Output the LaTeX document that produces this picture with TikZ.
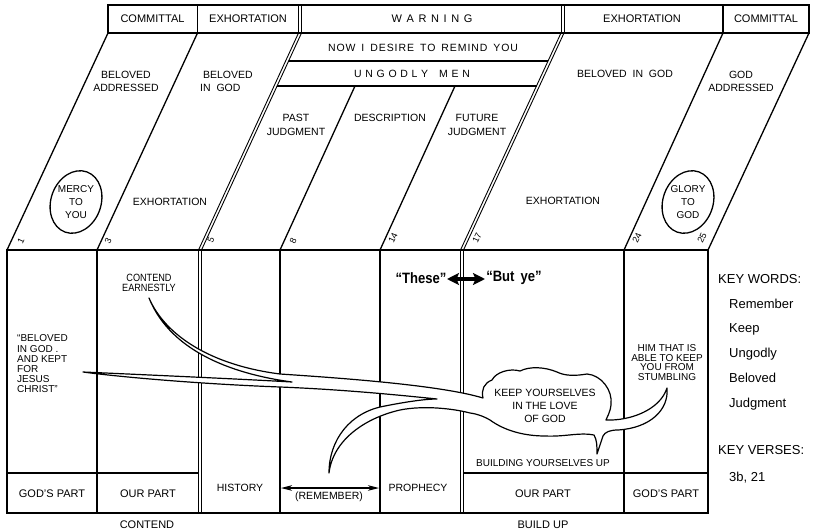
\documentclass[tikz,border=0pt]{standalone}
\usepackage{fontspec}
\setmainfont{Liberation Sans}
\newfontfamily\condfont[FakeStretch=0.87]{Liberation Sans}
\usetikzlibrary{arrows.meta,shapes.geometric}
\newcommand\gapA{\kern4.6pt}
\newcommand\gapB{\kern3.7pt}
\newcommand\gapC{\kern0.9pt}
\newcommand\wgapC{\kern6pt}
\begin{document}
\begin{tikzpicture}[x=1pt,y=-1pt,
  lbl/.style={inner sep=0pt, align=center, font=\fontsize{10.5}{13.5}\selectfont},
  hdr/.style={inner sep=0pt, font=\fontsize{11}{13}\selectfont},
  num/.style={inner sep=0pt, font=\fontsize{9}{10}\selectfont, rotate=65},
  smalltxt/.style={inner sep=0pt, align=center, font=\fontsize{10}{9.7}\selectfont},
  keytxt/.style={inner sep=0pt, anchor=base west, font=\fontsize{13}{15}\selectfont},
  frame/.style={line width=1.3pt},
  dbl/.style={line width=0.9pt},
  oval/.style={draw, ellipse, line width=1.3pt, minimum width=50pt, minimum height=64pt, rotate=-20, inner sep=0pt},
  river/.style={fill=white, draw=black, line width=1.2pt, line join=round}
]
\fill[white] (0,0) rectangle (816,532);
\useasboundingbox (0,0) rectangle (816,532);

% ---------- header row ----------
\draw[frame] (108,5) rectangle (809,33);
\draw[frame] (197.5,5) -- (197.5,33);
\draw[dbl] (298.5,5) -- (298.5,33) (301.5,5) -- (301.5,33);
\draw[dbl] (561,5) -- (561,33) (564,5) -- (564,33);
\draw[frame] (723,5) -- (723,33);

% ---------- slanted top face ----------
\draw[frame] (108,33) -- (7,250);
\draw[frame] (197.5,33) -- (97,250);
\draw[dbl] (298.5,33) -- (198.5,250) (301.5,33) -- (201.5,250);
\draw[dbl] (561,33) -- (460.5,250) (564,33) -- (463.5,250);
\draw[frame] (723,33) -- (624,250);
\draw[frame] (809,33) -- (708,250);
% bands inside WARNING
\draw[frame] (288.6,61) -- (548,61);
\draw[frame] (277.1,86) -- (536.5,86);
\draw[frame] (355,86) -- (280,250);
\draw[frame] (455,86) -- (380,250);

% ---------- front face ----------
\draw[frame] (7,250) rectangle (708,513);
\draw[frame] (97,250) -- (97,513);
\draw[dbl] (198.5,250) -- (198.5,513) (201.5,250) -- (201.5,513);
\draw[frame] (280,250) -- (280,513);
\draw[frame] (380,250) -- (380,513);
\draw[dbl] (460.5,250) -- (460.5,513) (463.5,250) -- (463.5,513);
\draw[frame] (624,250) -- (624,513);
\draw[frame] (7,473) -- (198.5,473);
\draw[frame] (463.5,473) -- (708,473);

% ---------- header texts ----------
\node[hdr] (h1) at (152.5,19) {COMMITTAL};
\node[hdr] (h2) at (248,19) {EXHORTATION};
\node[hdr] (h3) at (432,19) {W\gapA A\gapA R\gapA N\gapA I\gapA N\gapA G};
\node[hdr] (h4) at (642,19) {EXHORTATION};
\node[hdr] (h5) at (766,19) {COMMITTAL};
\node[lbl] (b1) at (423,47.5) {N\gapC O\gapC W\wgapC I\wgapC D\gapC E\gapC S\gapC I\gapC R\gapC E\wgapC T\gapC O\wgapC R\gapC E\gapC M\gapC I\gapC N\gapC D\wgapC Y\gapC O\gapC U};
\node[lbl] (b2) at (412,74) {U\gapB N\gapB G\gapB O\gapB D\gapB L\gapB Y\kern11pt M\gapB E\gapB N};

% ---------- top face texts ----------
\node[lbl] (t1) at (126,81.5) {BELOVED\\ADDRESSED};
\node[lbl, align=left, anchor=west] (t2) at (200,81.5) {\ BELOVED\\IN\ \ GOD};
\node[lbl] (t3) at (170,202) {EXHORTATION};
\node[lbl] (t4) at (296,125) {PAST\\JUDGMENT};
\node[lbl] (t5) at (390,118) {DESCRIPTION};
\node[lbl] (t6) at (477,125) {FUTURE\\JUDGMENT};
\node[lbl] (t7) at (625,74) {BELOVED\ \ IN\ \ GOD};
\node[lbl] (t8) at (741,81.5) {GOD\\ADDRESSED};
\node[lbl] (t9) at (563,201) {EXHORTATION};
\node[oval] (e1) at (76,202) {};
\node[lbl, font=\fontsize{10}{13}\selectfont] (e1t) at (76,202) {MERCY\\TO\\YOU};
\node[oval] (e2) at (688,202) {};
\node[lbl, font=\fontsize{10}{13}\selectfont] (e2t) at (688,202) {GLORY\\TO\\GOD};

% verse numbers
\node[num] (v1) at (21,241) {1};
\node[num] (v3) at (108,241) {3};
\node[num] (v5) at (211,240) {5};
\node[num] (v8) at (293,241) {8};
\node[num] (v14) at (393,238) {14};
\node[num] (v17) at (477,238) {17};
\node[num] (v24) at (637,238) {24};
\node[num] (v25) at (702,238) {25};

% ---------- river of horns into the cloud ----------
\path[river] (149,298)
  .. controls (165,335) and (210,365) .. (280,374)
  .. controls (340,378) and (440,385) .. (483,398)
  .. controls (481,390) and (484,383) .. (492,380)
  .. controls (496,372) and (510,368) .. (520,371)
  .. controls (530,366) and (545,367) .. (557,372)
  .. controls (565,376) and (575,376) .. (587,374)
  .. controls (601,375) and (613,390) .. (611,405)
  .. controls (610,413) and (607,417) .. (606,420)
  .. controls (630,421) and (660,410) .. (667,388)
  .. controls (669,410) and (650,428) .. (618,430)
  .. controls (610,430) and (605,432) .. (603,436)
  .. controls (601,442) and (599,448) .. (597,454)
  .. controls (597,446) and (597,440) .. (594,435)
  .. controls (580,432) and (565,437) .. (545,436)
  .. controls (525,436) and (505,431) .. (490,420)
  .. controls (485,417) and (478,414) .. (470,413)
  .. controls (455,409) and (425,405) .. (400,410)
  .. controls (365,418) and (333,440) .. (329,473)
  .. controls (329,440) and (350,412) .. (385,406)
  .. controls (405,402) and (425,399) .. (437,399)
  .. controls (380,393) and (330,389) .. (280,387)
  .. controls (200,384) and (120,377) .. (83,372)
  .. controls (150,375) and (240,379) .. (292,382)
  .. controls (240,375) and (172,355) .. (149,298)
  -- cycle;

% ---------- front texts ----------
\node[inner sep=0pt, align=center, font=\condfont\fontsize{10.5}{10}\selectfont] (f1) at (149,283) {CONTEND\\EARNESTLY};
\node[smalltxt, font=\fontsize{10}{10.2}\selectfont, align=left, anchor=west] (f2) at (17,364) {“BELOVED\\IN GOD .\\AND KEPT\\FOR\\JESUS\\CHRIST”};
\node[smalltxt] (f3) at (667,362.5) {HIM THAT IS\\ABLE TO KEEP\\YOU FROM\\STUMBLING};
\node[inner sep=0pt, font=\condfont\bfseries\fontsize{15}{17}\selectfont] (these) at (421,278) {“These”};
\node[inner sep=0pt, font=\condfont\bfseries\fontsize{15}{17}\selectfont] (butye) at (514,278) {“But\,\ ye”};
\coordinate (thL) at (447,279);
\coordinate (thR) at (485,279);
\draw[line width=3.2pt, {Stealth[length=12pt,width=12pt,inset=2.5pt]}-{Stealth[length=12pt,width=12pt,inset=2.5pt]}] (thL) -- (thR);

\node[lbl, font=\fontsize{10.5}{13}\selectfont] (cl) at (545,406) {KEEP YOURSELVES\\IN THE LOVE\\OF GOD};
\node[lbl, font=\fontsize{10}{12}\selectfont] (bu) at (543,463) {BUILDING YOURSELVES UP};

\node[lbl, font=\fontsize{11}{13}\selectfont] (p1) at (52,494) {GOD’S PART};
\node[lbl, font=\fontsize{11}{13}\selectfont] (p2) at (148,494) {OUR PART};
\node[lbl] (p3) at (240,488) {HISTORY};
\node[lbl] (p4) at (329,497) {(REMEMBER)};
\node[lbl] (p5) at (418,488) {PROPHECY};
\node[lbl, font=\fontsize{11}{13}\selectfont] (p6) at (543,494) {OUR PART};
\node[lbl, font=\fontsize{11}{13}\selectfont] (p7) at (666,494) {GOD’S PART};
\coordinate (rmL) at (281,488);
\coordinate (rmR) at (379,488);
\draw[line width=1.1pt, {Stealth[length=11pt,width=5.5pt,inset=3pt]}-{Stealth[length=11pt,width=5.5pt,inset=3pt]}] (rmL) -- (rmR);

\node[lbl, font=\fontsize{11}{13}\selectfont] (c1) at (147,525) {CONTEND};
\node[lbl, font=\fontsize{11}{13}\selectfont] (c2) at (543,525) {BUILD\ UP};

% ---------- key words ----------
\node[keytxt] (k0) at (718,283.7) {KEY WORDS:};
\node[keytxt] (k1) at (729,308.7) {Remember};
\node[keytxt] (k2) at (729,332.7) {Keep};
\node[keytxt] (k3) at (729,357.7) {Ungodly};
\node[keytxt] (k4) at (729,382.7) {Beloved};
\node[keytxt] (k5) at (729,407.7) {Judgment};
\node[keytxt] (k6) at (718,454.7) {KEY VERSES:};
\node[keytxt] (k7) at (729,481.7) {3b, 21};
\end{tikzpicture}
\end{document}
